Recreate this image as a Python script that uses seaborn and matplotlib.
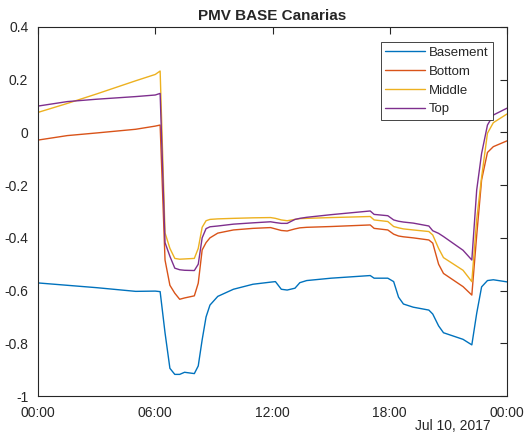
import pandas as pd
import seaborn as sns
import matplotlib.pyplot as plt
import matplotlib.dates as mdates

# hours after midnight, Jul 10 2017
hours = [0, 1.5, 3, 5, 6.0, 6.25, 6.5, 6.75, 7.0, 7.25, 7.5, 8.0, 8.2, 8.4, 8.6, 8.8,
         9.2, 10.0, 11.0, 11.9, 12.15, 12.45, 12.75, 13.15, 13.4, 13.75, 15.0, 17.0,
         17.2, 17.9, 18.2, 18.45, 18.7, 19.2, 20.0, 20.2, 20.5, 20.75, 21.75, 22.2,
         22.45, 22.7, 23.0, 23.3, 24.0]

basement = [-0.571, -0.580, -0.589, -0.603, -0.602, -0.604, -0.760, -0.895, -0.918, -0.918,
            -0.910, -0.915, -0.886, -0.787, -0.700, -0.655, -0.622, -0.595, -0.576, -0.568,
            -0.566, -0.595, -0.598, -0.591, -0.570, -0.562, -0.553, -0.543, -0.553, -0.553,
            -0.566, -0.625, -0.651, -0.663, -0.674, -0.689, -0.734, -0.760, -0.785, -0.806,
            -0.686, -0.586, -0.562, -0.559, -0.567]

bottom = [-0.029, -0.012, -0.002, 0.012, 0.024, 0.028, -0.484, -0.580, -0.610, -0.633,
          -0.628, -0.620, -0.572, -0.446, -0.418, -0.400, -0.382, -0.370, -0.364, -0.361,
          -0.366, -0.372, -0.374, -0.366, -0.362, -0.360, -0.357, -0.351, -0.364, -0.370,
          -0.386, -0.393, -0.396, -0.400, -0.408, -0.420, -0.500, -0.535, -0.585, -0.617,
          -0.390, -0.180, -0.076, -0.054, -0.032]

middle = [0.076, 0.110, 0.146, 0.196, 0.220, 0.233, -0.381, -0.440, -0.478, -0.481,
          -0.480, -0.478, -0.440, -0.360, -0.335, -0.330, -0.328, -0.326, -0.324, -0.323,
          -0.326, -0.332, -0.335, -0.330, -0.327, -0.326, -0.323, -0.319, -0.332, -0.338,
          -0.357, -0.362, -0.366, -0.370, -0.376, -0.389, -0.440, -0.475, -0.523, -0.566,
          -0.330, -0.170, -0.003, 0.037, 0.070]

top = [0.100, 0.117, 0.126, 0.136, 0.142, 0.148, -0.418, -0.470, -0.515, -0.521,
       -0.523, -0.524, -0.500, -0.400, -0.365, -0.358, -0.355, -0.348, -0.343, -0.339,
       -0.342, -0.345, -0.345, -0.330, -0.326, -0.322, -0.312, -0.298, -0.311, -0.316,
       -0.332, -0.337, -0.340, -0.344, -0.355, -0.373, -0.383, -0.395, -0.447, -0.484,
       -0.218, -0.080, 0.028, 0.066, 0.092]

zones = ['Basement', 'Bottom', 'Middle', 'Top']
colors = ['#0072BD', '#D95319', '#EDB120', '#7E2F8E']

start = pd.Timestamp('2017-07-10 00:00')
times = [start + pd.Timedelta(hours=h) for h in hours]
df = pd.concat([
    pd.DataFrame({'time': times, 'pmv': vals, 'zone': z})
    for z, vals in zip(zones, [basement, bottom, middle, top])
])

sns.set_style('white')
plt.rcParams['font.family'] = ['Liberation Sans', 'DejaVu Sans']

fig = plt.figure(figsize=(5.26, 4.41), dpi=100)
ax = fig.add_axes([38 / 526, 45 / 441, 469 / 526, 369 / 441])

sns.lineplot(data=df, x='time', y='pmv', hue='zone', hue_order=zones,
             palette=colors, linewidth=1.0, ax=ax)

ax.set_xlim(start, start + pd.Timedelta(hours=24))
ax.set_ylim(-1, 0.4)
ax.set_yticks([-1, -0.8, -0.6, -0.4, -0.2, 0, 0.2, 0.4])
ax.set_yticklabels(['-1', '-0.8', '-0.6', '-0.4', '-0.2', '0', '0.2', '0.4'])
ax.xaxis.set_major_locator(mdates.HourLocator(byhour=[0, 6, 12, 18]))
ax.xaxis.set_major_formatter(mdates.DateFormatter('%H:%M'))
ax.set_xlabel('')
ax.set_ylabel('')

for s in ax.spines.values():
    s.set_color('#262626')
    s.set_linewidth(0.8)
ax.tick_params(direction='in', length=5, width=0.8, color='#262626',
               labelsize=10, labelcolor='#262626', top=True, right=True)
ax.tick_params(axis='x', pad=7)
ax.tick_params(axis='y', pad=7)

ax.set_title('PMV BASE Canarias', fontsize=11, fontweight='bold', pad=5)
ax.text(0.966, -0.062, 'Jul 10, 2017', transform=ax.transAxes, fontsize=10,
        color='#262626', ha='right', va='top')

leg = ax.legend(loc='upper right', bbox_to_anchor=(0.970, 0.959), fontsize=9.5,
                frameon=True, fancybox=False, framealpha=1, edgecolor='#262626',
                handlelength=3.0, handletextpad=0.3, labelspacing=0.5,
                borderpad=0.35, borderaxespad=0)
leg.get_frame().set_linewidth(0.6)

fig.savefig('out.png', dpi=100)
